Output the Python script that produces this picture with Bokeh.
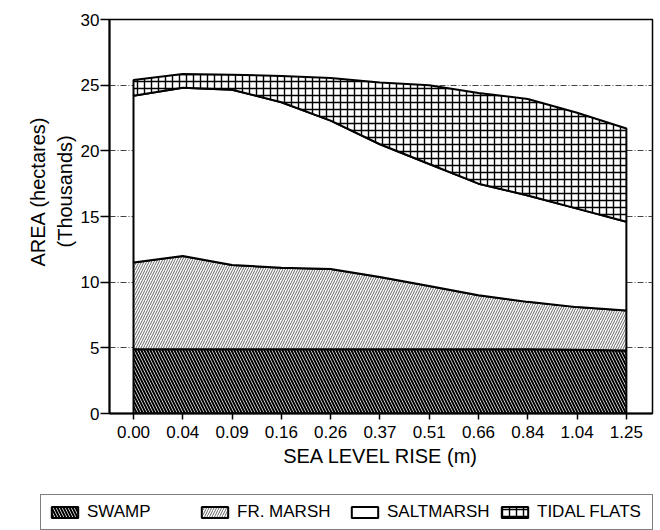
import numpy as np
from bokeh.plotting import figure
from bokeh.layouts import column
from bokeh.models import FixedTicker, Legend, LegendItem, Range1d, Title
from bokeh.embed import file_html
from bokeh.resources import INLINE

# ---- data (thousands of hectares) ----
rise_labels = ["0.00", "0.04", "0.09", "0.16", "0.26", "0.37",
               "0.51", "0.66", "0.84", "1.04", "1.25"]
swamp = [4.9, 4.9, 4.9, 4.9, 4.9, 4.9, 4.9, 4.9, 4.9, 4.85, 4.8]
fr_marsh = [6.6, 7.1, 6.4, 6.2, 6.1, 5.5, 4.8, 4.1, 3.6, 3.25, 3.05]
saltmarsh = [12.7, 12.8, 13.35, 12.6, 11.3, 10.1, 9.3, 8.5, 8.1, 7.5, 6.75]
tidal_flats = [1.2, 1.05, 1.15, 2.0, 3.25, 4.7, 6.0, 6.9, 7.35, 7.3, 7.1]
y_ticks = [0, 5, 10, 15, 20, 25, 30]
series_names = ["SWAMP", "FR. MARSH", "SALTMARSH", "TIDAL FLATS"]
y_title_lines = ["AREA (hectares)", "(Thousands)"]

FONT = "Liberation Sans"

x = np.arange(len(rise_labels))
b0 = np.zeros(len(x))
t1 = b0 + np.array(swamp)
t2 = t1 + np.array(fr_marsh)
t3 = t2 + np.array(saltmarsh)
t4 = t3 + np.array(tidal_flats)
bands = [(b0, t1), (t1, t2), (t2, t3), (t3, t4)]

styles = [
    dict(fill_color="white", hatch_pattern="\\", hatch_color="black",
         hatch_scale=6, hatch_weight=2, line_color="black", line_width=2),
    dict(fill_color="white", hatch_pattern="/", hatch_color="#555555",
         hatch_scale=5, hatch_weight=0.9, line_color="black", line_width=2),
    dict(fill_color="white", line_color="black", line_width=2),
    dict(fill_color="white", hatch_pattern="+", hatch_color="black",
         hatch_scale=7, hatch_weight=1.4, line_color="black", line_width=2),
]


def band(lo, hi):
    xs = list(x) + list(x[::-1])
    ys = list(hi) + list(lo[::-1])
    return xs, ys


p = figure(width=660, height=494, output_backend="svg", toolbar_location=None,
           x_range=Range1d(-0.487, 10.53), y_range=Range1d(0, 30),
           min_border_left=109, min_border_right=8, min_border_top=19,
           min_border_bottom=81)
p.frame_align = False

p.outline_line_color = "black"
p.outline_line_width = 1.5
p.background_fill_color = "white"
p.border_fill_color = "white"

# grid
p.xgrid.visible = False
p.ygrid.ticker = FixedTicker(ticks=y_ticks)
p.ygrid.grid_line_color = "#444444"
p.ygrid.grid_line_width = 1
p.ygrid.grid_line_dash = "6 2 1 2"

for (lo, hi), st in zip(bands, styles):
    xs, ys = band(lo, hi)
    p.patch(xs, ys, **st)

# axes
p.xaxis.ticker = FixedTicker(ticks=list(x))
p.xaxis.major_label_overrides = {int(i): lab for i, lab in zip(x, rise_labels)}
p.yaxis.ticker = FixedTicker(ticks=y_ticks)
for ax in (p.xaxis, p.yaxis):
    ax.axis_line_color = "black"
    ax.axis_line_width = 2
    ax.major_tick_line_color = "black"
    ax.major_tick_line_width = 1.5
    ax.major_tick_in = 0
    ax.minor_tick_line_color = None
    ax.major_label_text_font = FONT
    ax.major_label_text_font_size = "17px"
    ax.major_label_text_color = "black"
    ax.axis_label_text_font = FONT
    ax.axis_label_text_font_size = "20px"
    ax.axis_label_text_font_style = "normal"
    ax.axis_label_text_color = "black"

p.xaxis.major_tick_out = 6
p.yaxis.major_tick_out = 9
p.xaxis.axis_label = "SEA LEVEL RISE (m)"
p.xaxis.major_label_standoff = 6
p.xaxis.axis_label_standoff = 4
p.yaxis.major_label_standoff = 1

# y title: two lines, centred a little above the middle of the frame
frame_h = 413 - 19
centre_from_bottom = frame_h / 2 + 25
approx_width = {"AREA (hectares)": 150, "(Thousands)": 112}  # Liberation Sans 20px
for line, st in zip(reversed(y_title_lines), (3, 4)):
    off = centre_from_bottom - approx_width[line] / 2
    t = Title(text=line, align="left", offset=off, standoff=st,
              text_font=FONT, text_font_size="20px", text_font_style="normal",
              text_color="black")
    p.add_layout(t, "left")

# ---- legend strip below the chart ----
p2 = figure(width=660, height=36, output_backend="svg", toolbar_location=None,
            x_range=p.x_range, y_range=p.y_range, x_axis_type=None, y_axis_type=None,
            min_border_left=0, min_border_right=0, min_border_top=0, min_border_bottom=0)
p2.frame_align = False
p2.outline_line_color = None
p2.border_fill_color = "white"
items = []
for name, (lo, hi), st in zip(series_names, bands, styles):
    xs, ys = band(lo, hi)
    r = p2.patch(xs, ys, visible=False, **st)
    items.append(LegendItem(label=name, renderers=[r]))

legend = Legend(items=items, orientation="horizontal", location=(40, 0))
legend.label_text_font = FONT
legend.label_text_font_size = "17px"
legend.label_text_color = "black"
legend.glyph_width = 33
legend.glyph_height = 14
legend.label_width = 108
legend.label_height = 18
legend.label_standoff = 6
legend.spacing = 3
legend.padding = 7
legend.margin = 0
legend.border_line_color = "black"
legend.border_line_width = 1.2
legend.background_fill_alpha = 1
legend.inactive_fill_alpha = 0
p2.add_layout(legend, "center")

layout = column(p, p2, spacing=0)
open("out.html", "w").write(file_html(layout, INLINE))
